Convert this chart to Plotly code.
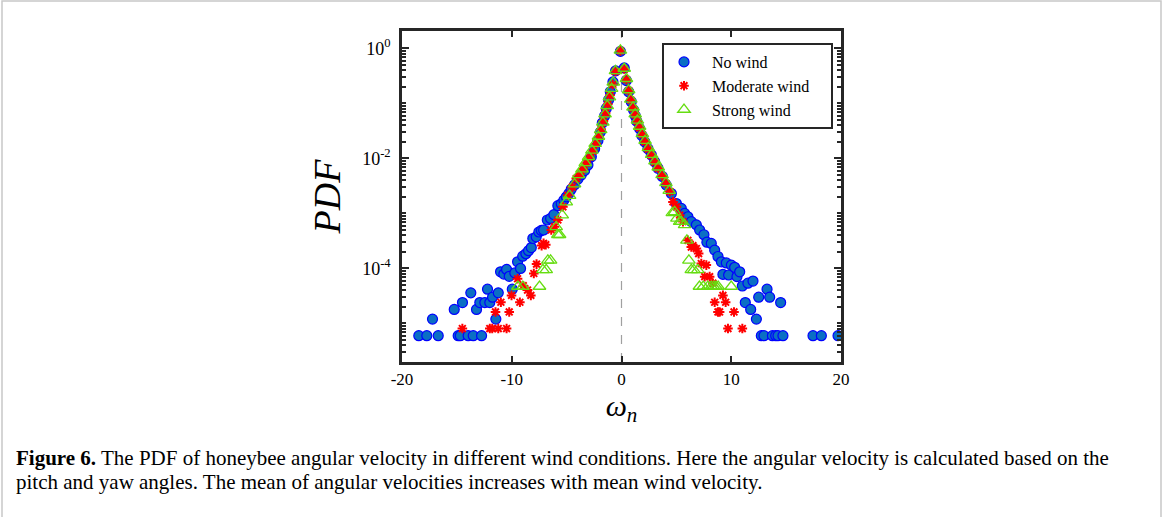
import plotly.graph_objects as go

# ---------------- data ----------------
no_wind_w = [-18.47, -17.74, -17.22, -16.70, -15.24, -14.88, -14.69, -14.49, -13.97, -13.73,
             -13.51, -13.21, -12.91, -12.75, -12.45, -12.21, -12.00, -11.75, -11.45, -11.23,
             -11.02, -10.72, -10.47, -10.23, -9.95, -9.72, -9.47, -9.20, -9.00, -8.71,
             -8.47, -8.22, -8.08, -7.77, -7.53, -7.30, -7.10, -6.76, -6.46, -6.16,
             -5.80, -5.49, -5.25, -5.03, -4.79, -4.58, -4.28, -3.97, -3.67, -3.36,
             -3.06, -2.75, -2.45, -2.15, -1.93, -1.75, -1.54, -1.39, -1.18, -1.02,
             -0.78, -0.54, -0.10, 0.25, 0.44, 0.65, 0.89, 1.10, 1.26, 1.40,
             1.65, 1.86, 2.11, 2.41, 2.72, 3.02, 3.32, 3.72, 4.08, 4.54,
             5.00, 5.45, 5.75, 6.05, 6.36, 6.82, 7.12, 7.51, 7.78, 8.18,
             8.49, 8.79, 9.10, 9.24, 9.55, 9.76, 10.01, 10.31, 10.52, 10.77,
             11.01, 11.28, 11.52, 11.77, 11.98, 12.29, 12.50, 12.74, 12.98, 13.26,
             13.50, 13.75, 14.05, 14.26, 14.50, 14.71, 17.45, 18.21, 19.73]
no_wind_pdf = [6.0e-6, 6.0e-6, 1.2e-5, 6.0e-6, 1.8e-5, 6.0e-6, 6.0e-6, 2.4e-5, 6.0e-6, 3.6e-5,
               6.0e-6, 1.8e-5, 2.4e-5, 6.0e-6, 2.4e-5, 4.2e-5, 2.4e-5, 3.0e-5, 1.2e-5, 3.6e-5,
               8.7e-5, 7.9e-5, 9.6e-5, 7.2e-5, 4.2e-5, 8.3e-5, 1.32e-4, 1.0e-4, 1.67e-4, 1.85e-4,
               2.1e-4, 2.4e-4, 3.5e-4, 3.75e-4, 4.6e-4, 4.9e-4, 5.0e-4, 7.6e-4, 8.1e-4, 9.5e-4,
               1.38e-3, 1.5e-3, 1.74e-3, 2.0e-3, 2.3e-3, 2.75e-3, 3.3e-3, 4.2e-3, 5.0e-3, 6.0e-3,
               7.6e-3, 1.07e-2, 1.5e-2, 2.1e-2, 3.0e-2, 4.4e-2, 5.9e-2, 8.1e-2, 1.15e-1, 1.62e-1,
               2.45e-1, 3.9e-1, 0.88, 0.44, 0.26, 0.162, 0.107, 0.076, 0.059, 0.047,
               0.035, 0.026, 0.020, 0.015, 0.0115, 0.0087, 0.0066, 0.0047, 0.00327, 0.0023,
               1.51e-3, 1.23e-3, 1.0e-3, 8.7e-4, 7.1e-4, 6.2e-4, 5.0e-4, 4.1e-4, 3.0e-4, 2.85e-4,
               2.15e-4, 1.65e-4, 1.32e-4, 7.8e-5, 1.26e-4, 7.6e-5, 1.15e-4, 1.05e-4, 7.1e-5, 8.7e-5,
               4.8e-5, 2.4e-5, 5.4e-5, 1.8e-5, 5.9e-5, 1.2e-5, 3.0e-5, 6.0e-6, 6.0e-6, 4.2e-5,
               3.0e-5, 6.0e-6, 6.0e-6, 6.0e-6, 2.4e-5, 6.0e-6, 6.0e-6, 6.0e-6, 6.0e-6]

moderate_w = [-14.50, -12.00, -11.78, -11.48, -11.23, -10.99, -10.47, -10.23, -10.02, -9.47,
              -9.26, -8.95, -8.56, -8.26, -7.99, -7.74, -7.28, -7.10, -6.90, -6.40,
              -6.10, -5.80, -5.34, -4.89, -4.49, -4.12, -3.80, -3.50, -3.20, -2.90,
              -2.60, -2.30, -2.05, -1.85, -1.65, -1.45, -1.25, -1.05, -0.80, -0.55,
              -0.10, 0.25, 0.45, 0.65, 0.85, 1.05, 1.25, 1.45, 1.65, 1.90,
              2.15, 2.45, 2.75, 3.05, 3.35, 3.70, 4.05, 4.40, 4.69, 5.00,
              5.30, 5.60, 6.05, 6.36, 6.51, 6.82, 7.03, 7.27, 7.58, 7.73,
              8.03, 8.33, 8.49, 8.79, 8.94, 9.24, 9.49, 9.70, 10.25, 11.01]
moderate_pdf = [8.1e-6, 8.1e-6, 8.1e-6, 1.62e-5, 8.1e-6, 2.43e-5, 8.1e-6, 1.62e-5, 3.24e-5, 6.5e-5,
                2.43e-5, 4.86e-5, 4.05e-5, 3.24e-5, 8.1e-5, 1.2e-4, 2.6e-4, 2.85e-4, 2.7e-4, 5.0e-4,
                5.75e-4, 7.6e-4, 1.32e-3, 2.14e-3, 3.0e-3, 4.3e-3, 5.2e-3, 6.4e-3, 8.2e-3, 1.05e-2,
                1.35e-2, 1.85e-2, 2.5e-2, 3.4e-2, 4.8e-2, 6.7e-2, 9.6e-2, 1.4e-1, 2.2e-1, 3.8e-1,
                0.90, 0.42, 0.27, 0.17, 0.115, 0.082, 0.062, 0.047, 0.036, 0.027,
                0.020, 0.0148, 0.0112, 0.0085, 0.0066, 0.0048, 0.0035, 0.0025, 1.62e-3, 1.32e-3,
                9.3e-4, 7.1e-4, 3.24e-4, 2.45e-4, 2.6e-4, 2.3e-4, 1.86e-4, 1.23e-4, 7.1e-5, 1.15e-4,
                7.1e-5, 5.4e-5, 2.43e-5, 1.62e-5, 1.62e-5, 3.24e-5, 2.43e-5, 8.1e-6, 1.62e-5, 8.1e-6]

strong_w = [-9.44, -8.99, -7.47, -7.16, -6.86, -6.71, -6.46, -5.95, -5.80, -5.64,
            -5.40, -5.03, -4.73, -4.28, -3.91, -3.60, -3.30, -3.00, -2.70, -2.40,
            -2.10, -1.90, -1.70, -1.50, -1.30, -1.10, -0.90, -0.75, -0.55, -0.10,
            0.25, 0.45, 0.65, 0.85, 1.05, 1.25, 1.45, 1.65, 1.90, 2.15,
            2.45, 2.75, 3.05, 3.35, 3.70, 4.05, 4.35, 4.63, 4.84, 5.05,
            5.30, 5.45, 5.75, 5.96, 6.14, 6.36, 6.59, 6.95, 7.10, 7.45,
            7.87, 8.18, 8.40, 8.61, 8.81, 10.00]
strong_pdf = [4.7e-5, 4.7e-5, 4.7e-5, 9.4e-5, 9.4e-5, 1.4e-4, 1.4e-4, 5.7e-4, 4.1e-4, 4.1e-4,
              9.3e-4, 1.6e-3, 2.1e-3, 3.4e-3, 5.0e-3, 6.4e-3, 8.3e-3, 1.07e-2, 1.4e-2, 1.85e-2,
              2.5e-2, 3.3e-2, 4.5e-2, 6.4e-2, 9.0e-2, 1.3e-1, 1.85e-1, 2.4e-1, 3.9e-1, 0.92,
              0.43, 0.28, 0.175, 0.118, 0.085, 0.064, 0.049, 0.038, 0.028, 0.021,
              0.0155, 0.0117, 0.0089, 0.0069, 0.0050, 0.0036, 0.0026, 1.02e-3, 1.07e-3, 8.1e-4,
              7.1e-4, 7.1e-4, 6.2e-4, 3.24e-4, 1.4e-4, 9.4e-5, 9.4e-5, 9.4e-5, 4.7e-5, 4.7e-5,
              4.7e-5, 4.7e-5, 4.7e-5, 4.7e-5, 4.7e-5, 4.7e-5]

x_tick_vals = [-20, -10, 0, 10, 20]
x_tick_text = ["-20", "-10", "0", "10", "20"]
y_tick_vals = [1e0, 1e-2, 1e-4]
y_tick_text = ["10<sup>0</sup>", "10<sup>-2</sup>", "10<sup>-4</sup>"]

series_names = ["No wind", "Moderate wind", "Strong wind"]
caption_line1 = ("<b>Figure 6.</b> The PDF of honeybee angular velocity in different wind conditions. "
                 "Here the angular velocity is calculated based on the")
caption_line2 = "pitch and yaw angles. The mean of angular velocities increases with mean wind velocity."

# ---------------- figure ----------------
SERIF = "Liberation Serif, Times New Roman, serif"
AX = "#262626"
L, R, T, B = 402, 841, 31, 362          # plot-area box in pixels
PW, PH = R - L, B - T
NB = "\u00a0"


def px(xp):
    return (xp - L) / PW


def py(yp):
    return (B - yp) / PH


def legend_label(name):
    # a little extra room between the symbol and the text, and at the right edge
    return NB * 2 + name + NB * 4


fig = go.Figure()
fig.add_trace(go.Scatter(
    x=no_wind_w, y=no_wind_pdf, mode="markers", name=legend_label(series_names[0]),
    marker=dict(symbol="circle", size=10, color="#0b6fc4", line=dict(color="#0000ff", width=1.2)),
))
fig.add_trace(go.Scatter(
    x=moderate_w, y=moderate_pdf, mode="markers", name=legend_label(series_names[1]),
    marker=dict(symbol="asterisk-open", size=8, color="#ff0000", line=dict(color="#ff0000", width=2)),
))
fig.add_trace(go.Scatter(
    x=strong_w, y=strong_pdf, mode="markers", name=legend_label(series_names[2]),
    marker=dict(symbol="triangle-up-open", size=11, color="#66dd11", line=dict(color="#66dd11", width=1.3)),
))

# dashed zero line
fig.add_shape(type="line", xref="x", yref="paper", x0=0, x1=0, y0=0, y1=1,
              line=dict(color="#a0a0a0", width=1.2, dash="dash"), layer="below")

fig.update_xaxes(
    range=[-20, 20], tickvals=x_tick_vals, ticktext=x_tick_text,
    ticks="inside", ticklen=6, tickwidth=2, tickcolor=AX,
    showline=True, linewidth=2.5, linecolor=AX, mirror="allticks",
    showgrid=False, zeroline=False,
    tickfont=dict(family=SERIF, size=17, color="#000"),
    title=dict(text="<i>ω</i><sub><i>n</i></sub>", font=dict(family=SERIF, size=30, color="#000"), standoff=6),
)
fig.update_yaxes(
    type="log", range=[-5.70, 0.315], tickvals=y_tick_vals, ticktext=y_tick_text,
    ticks="inside", ticklen=7, tickwidth=2, tickcolor=AX,
    minor=dict(ticks="inside", ticklen=4, tickwidth=1.5, tickcolor=AX, dtick="D1", showgrid=False),
    showline=True, linewidth=2.5, linecolor=AX, mirror="allticks",
    showgrid=False, zeroline=False,
    tickfont=dict(family=SERIF, size=18, color="#000"),
    ticklabelstandoff=5,
    title=dict(text="<i>PDF</i>", font=dict(family=SERIF, size=38, color="#000"), standoff=10),
)

fig.update_layout(
    width=1167, height=517,
    margin=dict(l=L, r=1167 - R, t=T, b=517 - B),
    paper_bgcolor="white", plot_bgcolor="white",
    showlegend=True,
    legend=dict(
        x=px(833), y=py(43), xanchor="right", yanchor="top",
        bordercolor=AX, borderwidth=2, bgcolor="white",
        font=dict(family=SERIF, size=16, color="#000"),
        itemsizing="trace", tracegroupgap=0, itemwidth=30,
    ),
    font=dict(family=SERIF),
)

# caption (two lines placed separately to keep the tight line spacing)
fig.add_annotation(
    xref="paper", yref="paper", x=px(14), y=py(458),
    xanchor="left", yanchor="middle", align="left", showarrow=False,
    text=caption_line1, font=dict(family=SERIF, size=21, color="#000"),
)
fig.add_annotation(
    xref="paper", yref="paper", x=px(14), y=py(482),
    xanchor="left", yanchor="middle", align="left", showarrow=False,
    text=caption_line2, font=dict(family=SERIF, size=21, color="#000"),
)

# light outer frame of the figure panel
fig.add_shape(type="rect", xref="paper", yref="paper",
              x0=px(2), x1=px(1161), y0=py(600), y1=py(1),
              line=dict(color="#c8c8c8", width=1.5), fillcolor="rgba(0,0,0,0)", layer="below")

fig.write_html("out.html", config={"displayModeBar": False},
               post_script="document.body.style.margin='0';")
